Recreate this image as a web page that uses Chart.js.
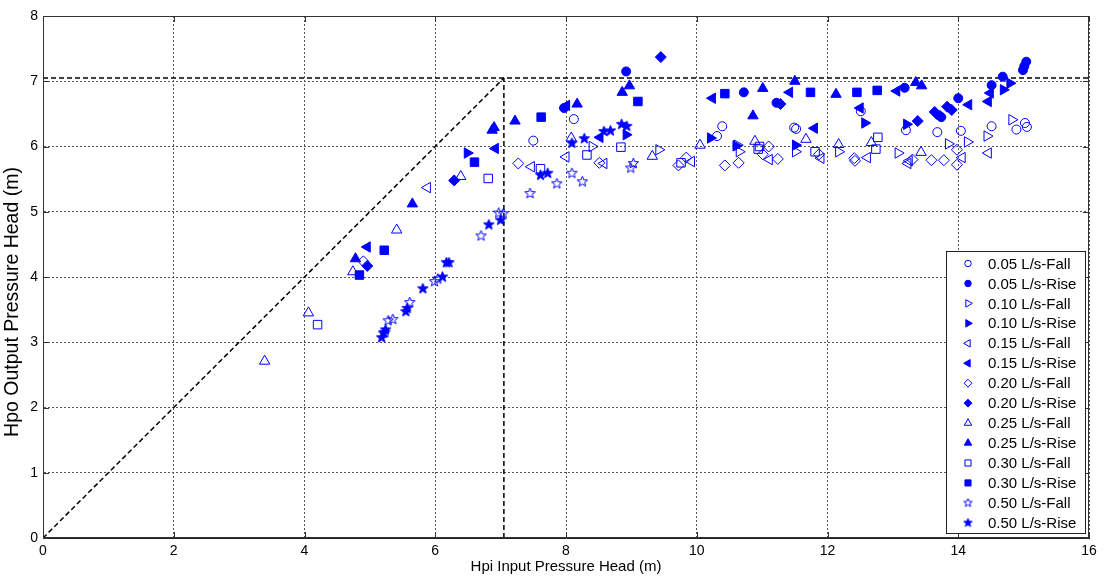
<!DOCTYPE html>
<html>
<head>
<meta charset="utf-8">
<script src="https://cdn.jsdelivr.net/npm/chart.js"></script>
<style>
  body { margin: 0; background: #fff; }
  #wrap { width: 1105px; height: 579px; position: relative; }
</style>
</head>
<body>
<div id="wrap"><canvas id="myChart"></canvas></div>
<script>
// data: [Hpi, Hpo] pairs
var fall005 = [[7.50,6.09],[8.12,6.42],[10.39,6.31],[10.31,6.16],[11.49,6.29],[11.52,6.27],[12.51,6.54],[13.20,6.25],[13.68,6.22],[14.04,6.24],[14.51,6.31],[14.89,6.26],[15.02,6.36],[15.05,6.30]];
var rise005 = [[7.97,6.59],[8.92,7.15],[10.72,6.83],[11.22,6.67],[13.18,6.90],[13.70,6.48],[13.74,6.45],[14.00,6.74],[14.51,6.94],[14.68,7.07],[14.99,7.17],[15.01,7.23],[15.04,7.30]];
var fall010 = [[8.40,6.00],[9.42,5.95],[10.62,6.02],[10.65,5.92],[11.51,5.92],[12.17,5.92],[13.08,5.90],[13.85,6.04],[14.14,6.07],[14.44,6.16],[14.82,6.41]];
var rise010 = [[6.49,5.90],[8.92,6.18],[10.21,6.13],[10.60,6.01],[11.51,6.02],[12.57,6.36],[13.21,6.34],[14.69,6.87],[14.79,6.97]];
var fall015 = [[5.88,5.37],[7.47,5.69],[8.00,5.84],[8.58,5.74],[9.92,5.77],[11.11,5.80],[11.90,5.82],[12.61,5.83],[13.23,5.74],[13.25,5.78],[14.06,5.83],[14.46,5.90]];
var rise015 = [[4.96,4.46],[6.92,5.97],[8.01,6.63],[8.52,6.14],[10.24,6.74],[11.42,6.83],[11.80,6.28],[12.50,6.59],[13.06,6.85],[14.16,6.64],[14.46,6.69],[14.49,6.82]];
var fall020 = [[4.90,4.24],[7.27,5.74],[8.51,5.75],[9.72,5.71],[9.84,5.83],[10.43,5.71],[10.64,5.75],[11.01,5.88],[11.10,6.00],[11.24,5.81],[11.87,5.88],[12.41,5.82],[12.42,5.78],[13.30,5.80],[13.59,5.79],[13.78,5.79],[13.98,5.95],[13.98,5.72]];
var rise020 = [[4.96,4.17],[6.29,5.48],[9.45,7.37],[11.28,6.65],[13.38,6.39],[13.64,6.53],[13.83,6.61],[13.90,6.56]];
var fall025 = [[3.39,2.71],[4.06,3.45],[4.74,4.08],[5.41,4.72],[6.39,5.54],[8.08,6.13],[9.32,5.85],[10.05,6.02],[10.89,6.08],[11.67,6.11],[12.17,6.03],[12.67,6.06],[13.43,5.91]];
var rise025 = [[4.78,4.28],[5.65,5.12],[6.87,6.25],[6.90,6.29],[7.22,6.39],[8.17,6.65],[8.86,6.83],[8.97,6.93],[10.86,6.47],[11.01,6.89],[11.50,7.00],[12.13,6.80],[13.35,6.98],[13.44,6.93]];
var fall030 = [[4.20,3.27],[6.81,5.51],[7.61,5.66],[8.32,5.87],[8.84,5.99],[9.76,5.75],[10.96,6.00],[10.94,5.96],[11.81,5.92],[12.77,6.14],[12.74,5.96]];
var rise030 = [[4.84,4.03],[5.22,4.41],[6.60,5.76],[7.62,6.45],[9.10,6.69],[10.43,6.81],[11.74,6.83],[12.45,6.83],[12.76,6.86]];
var fall050 = [[5.23,3.15],[5.28,3.33],[5.35,3.35],[5.61,3.61],[5.99,3.93],[6.04,3.97],[6.70,4.63],[6.97,4.98],[7.04,4.97],[7.45,5.28],[7.86,5.43],[8.09,5.59],[8.25,5.46],[8.99,5.67],[9.03,5.74]];
var rise050 = [[5.18,3.07],[5.21,3.14],[5.24,3.19],[5.55,3.47],[5.57,3.52],[5.81,3.82],[6.11,4.00],[6.17,4.22],[6.21,4.22],[6.82,4.80],[7.00,4.87],[7.61,5.56],[7.72,5.59],[8.09,6.05],[8.28,6.12],[8.58,6.23],[8.68,6.24],[8.85,6.34],[8.93,6.31]];

// dashed guide lines
var diagLine = [[0,0],[7.05,7.05]];
var vertLine = [[7.05,0],[7.05,7.05]];
var horizLine = [[0,7.05],[16,7.05]];

var seriesLabels = ['0.05 L/s-Fall','0.05 L/s-Rise','0.10 L/s-Fall','0.10 L/s-Rise','0.15 L/s-Fall','0.15 L/s-Rise','0.20 L/s-Fall','0.20 L/s-Rise','0.25 L/s-Fall','0.25 L/s-Rise','0.30 L/s-Fall','0.30 L/s-Rise','0.50 L/s-Fall','0.50 L/s-Rise'];
var xTicks = [0,2,4,6,8,10,12,14,16];
var yTicks = [0,1,2,3,4,5,6,7,8];
var yTitle = 'Hpo Output Pressure Head (m)';

var BLUE = 'rgb(0,0,255)';
var FONT = 'Liberation Sans, Arial, sans-serif';

function makeStar(filled, outer) {
  var c = document.createElement('canvas');
  var s = Math.ceil(outer * 2 + 4);
  c.width = s; c.height = s;
  var g = c.getContext('2d');
  g.beginPath();
  for (var i = 0; i < 10; i++) {
    var r = i % 2 ? outer * 0.42 : outer;
    var a = -Math.PI / 2 + i * Math.PI / 5;
    var px = s / 2 + r * Math.cos(a), py = s / 2 + r * Math.sin(a);
    if (i == 0) g.moveTo(px, py); else g.lineTo(px, py);
  }
  g.closePath();
  if (filled) { g.fillStyle = BLUE; g.fill(); }
  g.strokeStyle = BLUE;
  g.lineWidth = 1;
  g.stroke();
  return c;
}

var starOpen = makeStar(false, 5.5), starFull = makeStar(true, 5.5);
var starOpenSm = makeStar(false, 4.5), starFullSm = makeStar(true, 4.5);

function pts(arr) { return arr.map(function (p) { return { x: p[0], y: p[1] }; }); }

// marker style per series: [pointStyle, radius, rotation]
var styles = [
  ['circle', 4.5, 0], ['circle', 4.5, 0],
  ['triangle', 6, 90], ['triangle', 6, 90],
  ['triangle', 6, -90], ['triangle', 6, -90],
  ['rectRot', 5.5, 0], ['rectRot', 5.5, 0],
  ['triangle', 6, 0], ['triangle', 6, 0],
  ['rect', 6, 0], ['rect', 6, 0],
  [starOpen, 5, 0], [starFull, 5, 0]
];
var seriesData = [fall005, rise005, fall010, rise010, fall015, rise015, fall020, rise020, fall025, rise025, fall030, rise030, fall050, rise050];

var datasets = seriesData.map(function (d, i) {
  var filled = i % 2 == 1;
  return {
    label: seriesLabels[i],
    data: pts(d),
    pointStyle: styles[i][0],
    pointRadius: styles[i][1],
    pointRotation: styles[i][2],
    pointBorderWidth: 1,
    pointBorderColor: BLUE,
    pointBackgroundColor: filled ? BLUE : 'rgba(0,0,0,0)',
    showLine: false
  };
});

[diagLine, vertLine, horizLine].forEach(function (l) {
  datasets.push({
    label: '',
    data: pts(l),
    showLine: true,
    borderColor: '#000',
    borderWidth: 1.5,
    borderDash: [5, 3],
    pointRadius: 0,
    fill: false
  });
});

// box around the plot with inward tick marks, plus the y title
var frame = {
  id: 'frame',
  afterDraw: function (chart) {
    var c = chart.ctx, a = chart.chartArea;
    var sx = chart.scales.x, sy = chart.scales.y;
    c.save();
    c.strokeStyle = '#333';
    c.lineWidth = 1;
    c.strokeRect(a.left + 0.5, a.top + 0.5, a.right - a.left - 1, a.bottom - a.top - 1);
    c.beginPath();
    xTicks.forEach(function (t) {
      var px = Math.round(sx.getPixelForValue(t)) + 0.5;
      c.moveTo(px, a.bottom); c.lineTo(px, a.bottom - 6);
      c.moveTo(px, a.top); c.lineTo(px, a.top + 6);
    });
    yTicks.forEach(function (t) {
      var py = Math.round(sy.getPixelForValue(t)) + 0.5;
      c.moveTo(a.left, py); c.lineTo(a.left + 6, py);
      c.moveTo(a.right, py); c.lineTo(a.right - 6, py);
    });
    c.stroke();

    c.translate(13, 302);
    c.rotate(-Math.PI / 2);
    c.fillStyle = '#000';
    c.font = '19.5px ' + FONT;
    c.textAlign = 'center';
    c.textBaseline = 'middle';
    c.fillText(yTitle, 0, 0);
    c.restore();
  }
};

// legend box inside the plot, bottom right
var boxLegend = {
  id: 'boxLegend',
  afterDraw: function (chart) {
    var c = chart.ctx;
    var x0 = 946.5, y0 = 251.5, w = 139, h = 282;
    c.save();
    c.fillStyle = '#fff';
    c.fillRect(x0, y0, w, h);
    c.strokeStyle = '#222';
    c.lineWidth = 1;
    c.strokeRect(x0, y0, w, h);
    c.font = '15px ' + FONT;
    c.textBaseline = 'middle';
    for (var i = 0; i < seriesLabels.length; i++) {
      var y = 263.5 + i * 19.95;
      var st = styles[i][0];
      if (i == 12) st = starOpenSm;
      if (i == 13) st = starFullSm;
      c.fillStyle = i % 2 ? BLUE : 'rgba(0,0,0,0)';
      c.strokeStyle = BLUE;
      c.lineWidth = 1;
      Chart.helpers.drawPoint(c, { pointStyle: st, radius: styles[i][1] * 0.72, rotation: styles[i][2], borderWidth: 1 }, 968, y);
      c.fillStyle = '#000';
      c.fillText(seriesLabels[i], 988, y + 1);
    }
    c.restore();
  }
};

const ctx = document.getElementById('myChart');

new Chart(ctx, {
  type: 'scatter',
  data: { datasets: datasets },
  options: {
    responsive: true,
    maintainAspectRatio: false,
    animation: false,
    layout: { padding: { left: 0, top: 16, right: 16, bottom: 0 } },
    plugins: {
      legend: { display: false },
      tooltip: { enabled: false }
    },
    scales: {
      x: {
        type: 'linear',
        min: 0,
        max: 16,
        afterBuildTicks: function (s) { s.ticks = xTicks.map(function (v) { return { value: v }; }); },
        afterFit: function (s) { s.height = 41; },
        ticks: { color: '#000', font: { family: FONT, size: 14 }, padding: 5, maxRotation: 0 },
        grid: { color: '#555', drawTicks: false },
        border: { color: '#222', dash: [2, 2] },
        title: { display: true, text: 'Hpi Input Pressure Head (m)', color: '#000', font: { family: FONT, size: 15 }, padding: { top: 0, bottom: 3 } }
      },
      y: {
        type: 'linear',
        min: 0,
        max: 8,
        afterBuildTicks: function (s) { s.ticks = yTicks.map(function (v) { return { value: v }; }); },
        afterFit: function (s) { s.width = 43; },
        ticks: { color: '#000', font: { family: FONT, size: 14 }, padding: 5 },
        grid: { color: '#555', drawTicks: false },
        border: { color: '#222', dash: [2, 2] },
        title: { display: false }
      }
    }
  },
  plugins: [frame, boxLegend]
});
</script>
</body>
</html>
